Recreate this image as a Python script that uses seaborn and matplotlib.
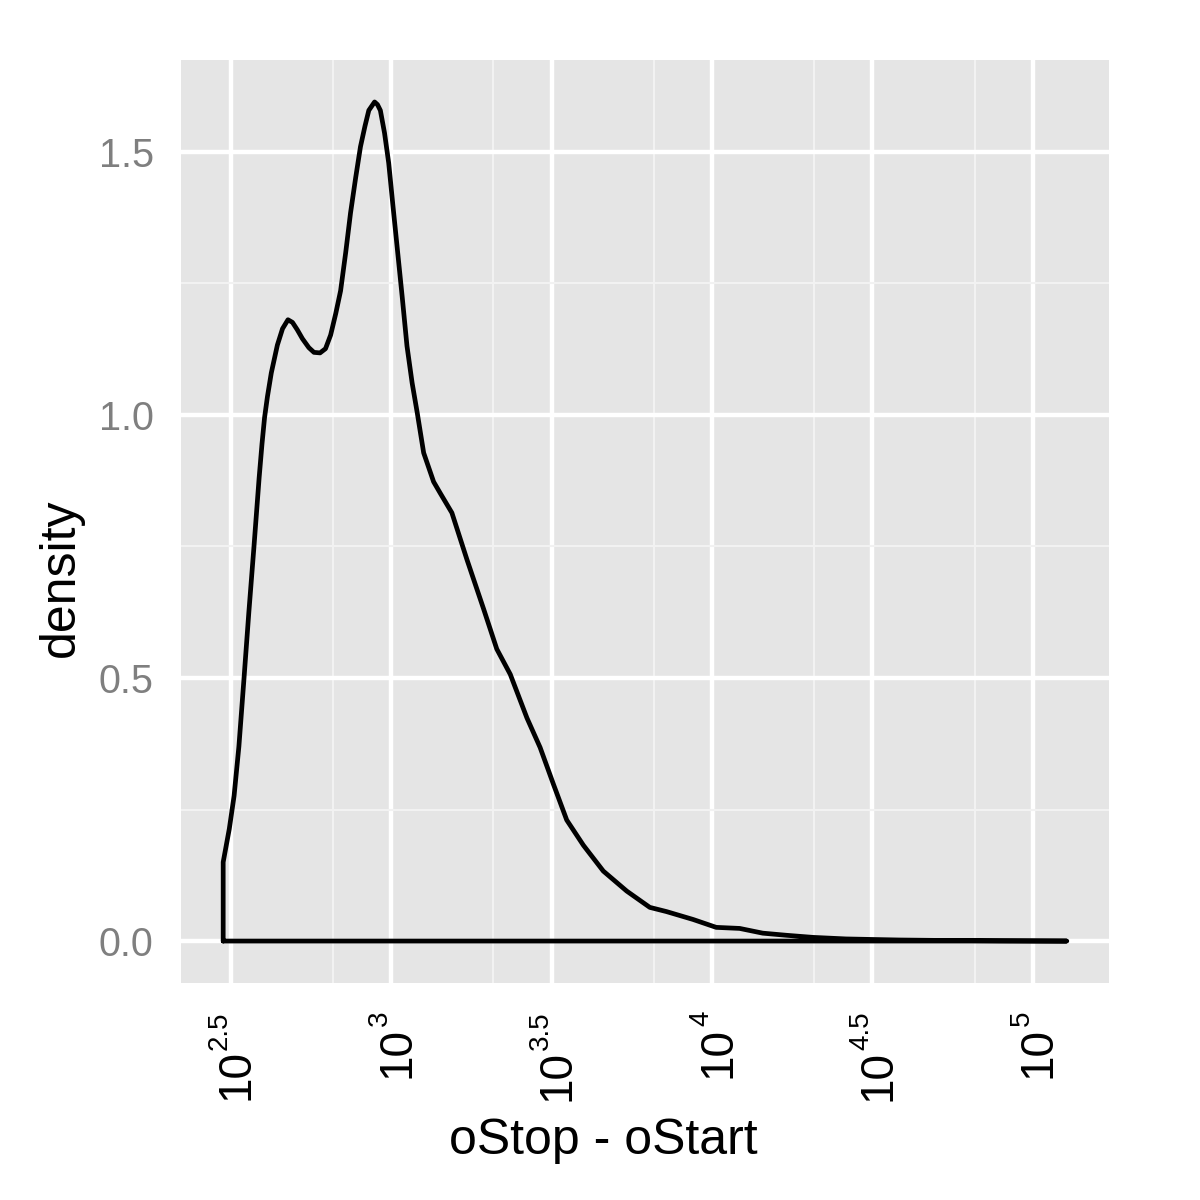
import numpy as np
import pandas as pd
import matplotlib
matplotlib.use("Agg")
import matplotlib.pyplot as plt
import matplotlib.ticker as mticker
import seaborn as sns

# ---- data (log10 of oStop - oStart, density) ----
log_len = [2.476, 2.495, 2.510, 2.525, 2.541, 2.556, 2.572, 2.588, 2.597, 2.605,
           2.614, 2.626, 2.645, 2.661, 2.678, 2.692, 2.707, 2.723, 2.743, 2.759,
           2.778, 2.795, 2.811, 2.827, 2.842, 2.858, 2.873, 2.889, 2.904, 2.918,
           2.930, 2.948, 2.957, 2.966, 2.979, 2.992, 3.005, 3.018, 3.034, 3.049,
           3.065, 3.081, 3.101, 3.132, 3.153, 3.189, 3.236, 3.288, 3.329, 3.371,
           3.423, 3.464, 3.505, 3.547, 3.599, 3.661, 3.734, 3.806, 3.858, 3.941,
           4.013, 4.086, 4.158, 4.231, 4.314, 4.418, 4.499, 4.583, 4.739, 4.894,
           5.106]
density = [0.150, 0.213, 0.276, 0.370, 0.500, 0.625, 0.750, 0.880, 0.945, 0.995,
           1.035, 1.080, 1.133, 1.164, 1.181, 1.176, 1.162, 1.145, 1.128, 1.119,
           1.118, 1.126, 1.152, 1.193, 1.236, 1.309, 1.384, 1.451, 1.510, 1.549,
           1.579, 1.595, 1.590, 1.579, 1.536, 1.479, 1.399, 1.321, 1.225, 1.131,
           1.061, 1.004, 0.928, 0.873, 0.851, 0.814, 0.725, 0.631, 0.555, 0.507,
           0.424, 0.368, 0.299, 0.230, 0.182, 0.133, 0.095, 0.064, 0.056, 0.041,
           0.026, 0.024, 0.015, 0.011, 0.007, 0.004, 0.003, 0.002, 0.001, 0.0005,
           0.0]

x_breaks = [2.5, 3.0, 3.5, 4.0, 4.5, 5.0]
y_breaks = [0.0, 0.5, 1.0, 1.5]
y_labels = ["0.0", "0.5", "1.0", "1.5"]
y_minor = [0.25, 0.75, 1.25]

# closed outline like ggplot's geom_density
xs = [10 ** log_len[0]] + [10 ** v for v in log_len] + [10 ** log_len[0]]
ys = [0.0] + density + [0.0]
df = pd.DataFrame({"x": xs, "y": ys})

sns.set_theme(style="white")
plt.rcParams["font.family"] = ["Liberation Sans", "DejaVu Sans"]

fig = plt.figure(figsize=(12, 12), dpi=100, facecolor="white")
ax = fig.add_axes([181 / 1200, 1 - 983 / 1200, 928 / 1200, 923 / 1200])
ax.set_facecolor("#E5E5E5")

sns.lineplot(data=df, x="x", y="y", sort=False, estimator=None,
             color="black", linewidth=3.4, ax=ax, zorder=3)
for ln in ax.lines:
    ln.set_solid_joinstyle("round")
    ln.set_solid_capstyle("round")
ax.set_xscale("log")

# limits with 5% expansion (in transformed space)
lo, hi = min(log_len), max(log_len)
span = hi - lo
ax.set_xlim(10 ** (lo - 0.05 * span), 10 ** (hi + 0.05 * span))
ymax = max(density)
ax.set_ylim(-0.05 * ymax, ymax * 1.05)

ax.xaxis.set_major_locator(mticker.FixedLocator([10 ** b for b in x_breaks]))
ax.xaxis.set_major_formatter(mticker.NullFormatter())
x_minor = [np.log10((10 ** a + 10 ** (a + 0.5)) / 2) for a in [2.0] + x_breaks]
ax.xaxis.set_minor_locator(mticker.FixedLocator([10 ** m for m in x_minor]))
ax.xaxis.set_minor_formatter(mticker.NullFormatter())
ax.yaxis.set_major_locator(mticker.FixedLocator(y_breaks))
ax.yaxis.set_major_formatter(mticker.FixedFormatter(y_labels))
ax.yaxis.set_minor_locator(mticker.FixedLocator(y_minor))

ax.grid(which="major", color="white", linewidth=3.2, zorder=1)
ax.grid(which="minor", color="#F2F2F2", linewidth=1.5, zorder=1)
ax.set_axisbelow(True)
for s in ax.spines.values():
    s.set_visible(False)

ax.tick_params(axis="both", which="major", length=12.7, width=2.5, color="#7F7F7F",
               direction="out", labelsize=28.5, pad=7)
ax.tick_params(axis="both", which="minor", length=0)
ax.tick_params(axis="y", labelcolor="#7F7F7F")

# x tick labels as 10^exp (rotated), base + smaller superscript
for b in x_breaks:
    exp_txt = f"{b:g}"
    ex = ax.annotate(exp_txt, xy=(10 ** b, 0), xycoords=ax.get_xaxis_transform(),
                     xytext=(-11, -28), textcoords="offset pixels",
                     rotation=90, ha="center", va="top", fontsize=20,
                     color="black", annotation_clip=False)
    ax.annotate("10", xy=(0.5, 0), xycoords=ex,
                xytext=(17, 0), textcoords="offset pixels",
                rotation=90, ha="center", va="top", fontsize=33,
                color="black", annotation_clip=False)

ax.set_xlabel("oStop - oStart", fontsize=36, color="black")
ax.set_ylabel("density", fontsize=36, color="black")
ax.xaxis.set_label_coords((603 - 181) / 928, (983 - 1118) / 923)
ax.yaxis.set_label_coords((84 - 181) / 928, (983 - 578) / 923)

fig.savefig("out.png", dpi=100, facecolor="white")
